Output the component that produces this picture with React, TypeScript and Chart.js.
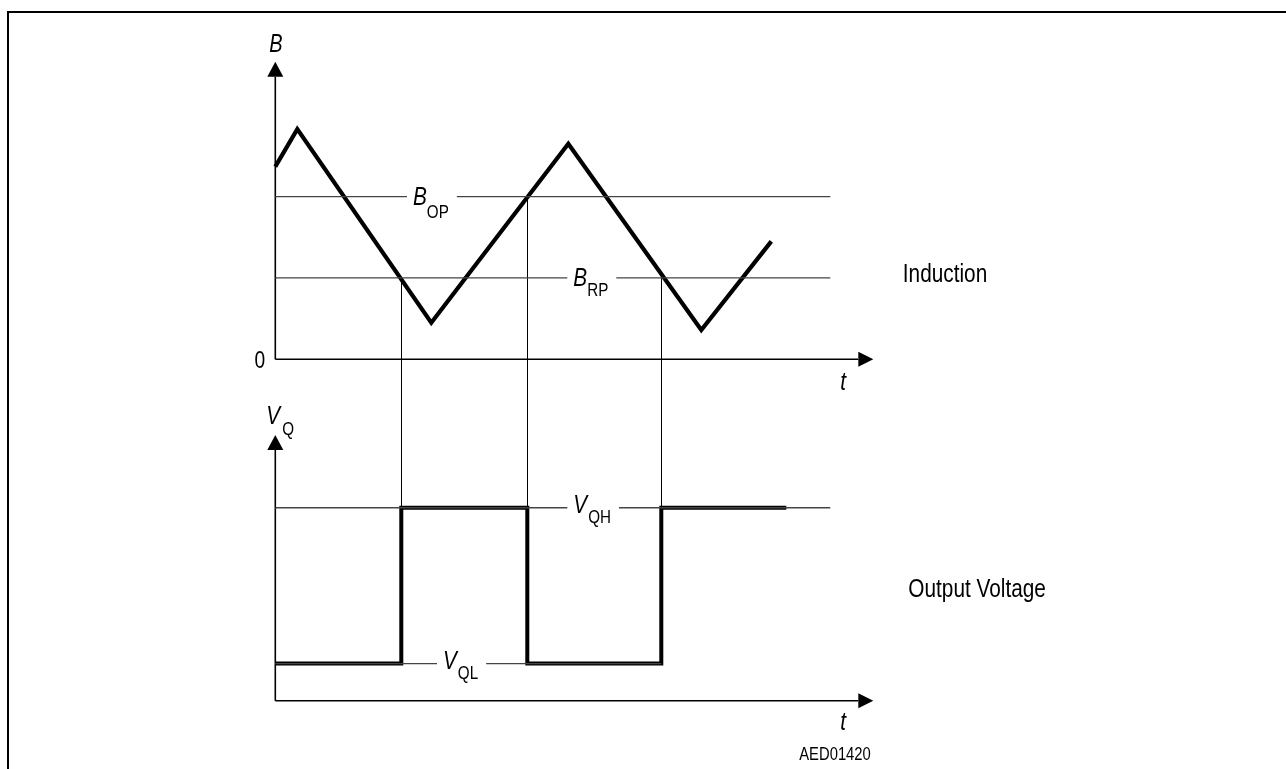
import React, { useEffect, useRef } from "react";
import { Chart, registerables } from "chart.js";

Chart.register(...registerables);

// ---- data ----
// Induction B(t) (triangle wave), time in arbitrary units, B in arbitrary units
const inductionTime = [0, 22, 156, 293, 426, 496];
const inductionB = [23.7, 28.3, 4.5, 26.5, 3.6, 14.5];

// Switching thresholds
const B_OP = 20;
const B_RP = 10;

// Output voltage levels
const V_QH = 5.2;
const V_QL = 1.0;

// Output voltage Vq(t) (square wave, step-held)
const outputTime = [0, 126, 252, 386, 511];
const outputV = [V_QL, V_QH, V_QL, V_QH, V_QH];

// switching instants and the threshold crossed at each
const switchTimes = [126, 252, 386];
const switchThresholds = [B_RP, B_OP, B_RP];

// axis extents
const timeAxisMax = 598;
const refLineEnd = 555;
const vqlLineEnd = 386;
const bAxisTop = 36.6;
const bRangeMin = -42;
const vAxisTop = 7.16;
const vRangeMax = 17.22;

const FONT = "'Liberation Sans', Arial, sans-serif";
const NARROW = 0.8; // horizontal condensing to mimic a narrow sans

function pts(xs: number[], ys: number[]) {
  return xs.map((x, i) => ({ x, y: ys[i] }));
}

function textWidth(ctx: CanvasRenderingContext2D, text: string, font: string) {
  ctx.font = font;
  return ctx.measureText(text).width * NARROW;
}

function drawText(
  ctx: CanvasRenderingContext2D,
  text: string,
  x: number,
  y: number,
  font: string,
  align: "left" | "right" | "center" = "left"
) {
  const w = textWidth(ctx, text, font);
  let left = x;
  if (align === "right") left = x - w;
  else if (align === "center") left = x - w / 2;
  ctx.save();
  ctx.font = font;
  ctx.textAlign = "left";
  ctx.textBaseline = "alphabetic";
  ctx.translate(left, y);
  ctx.scale(NARROW, 1);
  ctx.fillText(text, 0, 0);
  ctx.restore();
}

const diagramPlugin = {
  id: "diagram",
  beforeDatasetsDraw(chart: any) {
    const { ctx } = chart;
    const xs = chart.scales.x;
    const yB = chart.scales.yB;
    const yV = chart.scales.yV;
    ctx.save();
    // connectors
    ctx.strokeStyle = "#000";
    ctx.lineWidth = 1;
    switchTimes.forEach((t, i) => {
      const px = Math.round(xs.getPixelForValue(t)) + 0.5;
      const y1 = yB.getPixelForValue(switchThresholds[i]);
      const y2 = yV.getPixelForValue(V_QH);
      ctx.beginPath();
      ctx.moveTo(px, y1);
      ctx.lineTo(px, y2);
      ctx.stroke();
    });
    // axes
    const drawAxes = (x0: number, yZero: number, yTip: number, xTip: number) => {
      const aLen = 15;
      const aHalf = 8;
      ctx.strokeStyle = "#000";
      ctx.fillStyle = "#000";
      ctx.lineWidth = 1.6;
      ctx.beginPath();
      ctx.moveTo(x0, yZero);
      ctx.lineTo(x0, yTip + aLen);
      ctx.moveTo(x0, yZero);
      ctx.lineTo(xTip - aLen, yZero);
      ctx.stroke();
      ctx.beginPath();
      ctx.moveTo(x0, yTip);
      ctx.lineTo(x0 - aHalf, yTip + aLen);
      ctx.lineTo(x0 + aHalf, yTip + aLen);
      ctx.closePath();
      ctx.fill();
      ctx.beginPath();
      ctx.moveTo(xTip, yZero);
      ctx.lineTo(xTip - aLen, yZero - 7.5);
      ctx.lineTo(xTip - aLen, yZero + 7.5);
      ctx.closePath();
      ctx.fill();
    };
    const x0 = xs.getPixelForValue(0);
    const xTip = xs.getPixelForValue(timeAxisMax);
    drawAxes(x0, yB.getPixelForValue(0), yB.getPixelForValue(bAxisTop), xTip);
    drawAxes(x0, yV.getPixelForValue(0), yV.getPixelForValue(vAxisTop), xTip);
    ctx.restore();
  },
  afterDatasetsDraw(chart: any) {
    const { ctx } = chart;
    const xs = chart.scales.x;
    const yB = chart.scales.yB;
    const yV = chart.scales.yV;
    const mainFont = `italic 26px ${FONT}`;
    const subFont = `19px ${FONT}`;
    ctx.save();
    ctx.fillStyle = "#000";

    const subLabel = (
      main: string,
      sub: string,
      x: number,
      lineY: number,
      mainOff: number,
      subOff: number,
      subGap: number,
      bg: boolean
    ) => {
      const mw = textWidth(ctx, main, mainFont);
      const sw = sub ? textWidth(ctx, sub, subFont) : 0;
      if (bg) {
        ctx.fillStyle = "#fff";
        ctx.fillRect(x - 6, lineY - 3, mw + subGap + sw + 14, 6);
        ctx.fillStyle = "#000";
      }
      drawText(ctx, main, x, lineY + mainOff, mainFont);
      if (sub) drawText(ctx, sub, x + mw + subGap, lineY + subOff, subFont);
    };

    // threshold labels
    subLabel("B", "OP", xs.getPixelForValue(137.7), yB.getPixelForValue(B_OP), 8.5, 21, 0, true);
    subLabel("B", "RP", xs.getPixelForValue(298), yB.getPixelForValue(B_RP), 8.5, 18.5, 0, true);
    subLabel("V", "QH", xs.getPixelForValue(298), yV.getPixelForValue(V_QH), 5.5, 15, 1, true);
    subLabel("V", "QL", xs.getPixelForValue(167.7), yV.getPixelForValue(V_QL), 5, 15, 1, true);

    const x0 = xs.getPixelForValue(0);
    const xTip = xs.getPixelForValue(timeAxisMax);
    const bZero = yB.getPixelForValue(0);
    const vZero = yV.getPixelForValue(0);

    // axis labels
    drawText(ctx, "B", x0 + 0.5, yB.getPixelForValue(bAxisTop) - 9.5, `italic 25px ${FONT}`, "center");
    subLabel("V", "Q", x0 - 9, yV.getPixelForValue(vAxisTop), -11.5, -0.5, 2, false);

    drawText(ctx, "0", x0 - 10, bZero + 9, `24px ${FONT}`, "right");

    drawText(ctx, "t", xTip - 33, bZero + 30.5, mainFont);
    drawText(ctx, "t", xTip - 33, vZero + 29.5, mainFont);

    drawText(ctx, "AED01420", xTip - 2.5, vZero + 59.5, `18.5px ${FONT}`, "right");

    drawText(ctx, "Induction", xTip + 29.5, yB.getPixelForValue(B_RP) + 4, `26px ${FONT}`);
    drawText(
      ctx,
      "Output Voltage",
      xTip + 35,
      (yV.getPixelForValue(V_QH) + yV.getPixelForValue(V_QL)) / 2 + 11,
      `26px ${FONT}`
    );
    ctx.restore();
  },
};

export default function App() {
  const ref = useRef<HTMLCanvasElement>(null);

  useEffect(() => {
    if (!ref.current) return;
    const thin = {
      borderColor: "#444",
      borderWidth: 1.3,
      pointRadius: 0,
      fill: false,
      tension: 0,
      clip: false as any,
    };
    const thick = {
      borderColor: "#000",
      pointRadius: 0,
      fill: false,
      tension: 0,
      clip: false as any,
      borderJoinStyle: "miter" as const,
      borderCapStyle: "butt" as const,
    };
    const chart = new Chart(ref.current, {
      type: "line",
      data: {
        datasets: [
          { ...thin, label: "B_OP", yAxisID: "yB", data: [{ x: 0, y: B_OP }, { x: refLineEnd, y: B_OP }] },
          { ...thin, label: "B_RP", yAxisID: "yB", data: [{ x: 0, y: B_RP }, { x: refLineEnd, y: B_RP }] },
          { ...thin, label: "V_QH", yAxisID: "yV", data: [{ x: 0, y: V_QH }, { x: refLineEnd, y: V_QH }] },
          { ...thin, label: "V_QL", yAxisID: "yV", data: [{ x: 0, y: V_QL }, { x: vqlLineEnd, y: V_QL }] },
          { ...thick, label: "Induction", yAxisID: "yB", borderWidth: 4.2, data: pts(inductionTime, inductionB) },
          { ...thick, label: "Output Voltage", yAxisID: "yV", borderWidth: 4, stepped: true, data: pts(outputTime, outputV) },
        ],
      },
      options: {
        responsive: false,
        animation: false,
        events: [],
        layout: { padding: { left: 275.3, right: 412.7, top: 61.7, bottom: 68.3 } },
        plugins: { legend: { display: false }, tooltip: { enabled: false } },
        scales: {
          x: { type: "linear", min: 0, max: timeAxisMax, display: false },
          yB: { type: "linear", min: bRangeMin, max: bAxisTop, display: false },
          yV: { type: "linear", min: 0, max: vRangeMax, display: false },
        },
      },
      plugins: [diagramPlugin],
    } as any);
    return () => chart.destroy();
  }, []);

  return (
    <div style={{ position: "absolute", left: 0, top: 0, width: 1286, height: 769, overflow: "hidden", background: "#fff" }}>
      <div
        style={{
          position: "absolute",
          left: 7,
          top: 11,
          right: -10,
          bottom: -10,
          borderTop: "2px solid #000",
          borderLeft: "2px solid #000",
        }}
      />
      <canvas ref={ref} width={1286} height={769} style={{ position: "absolute", left: 0, top: 0 }} />
    </div>
  );
}
